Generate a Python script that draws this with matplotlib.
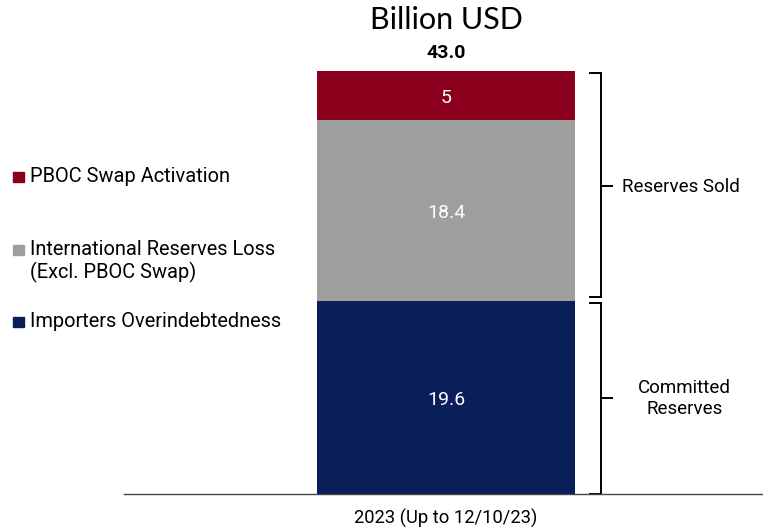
import matplotlib
matplotlib.use("Agg")
import matplotlib.pyplot as plt
from matplotlib.patches import Rectangle

plt.rcParams['font.family'] = ['Roboto', 'DejaVu Sans']

# data
category = ["2023 (Up to 12/10/23)"]
series = ["Importers Overindebtedness", "International Reserves Loss\n(Excl. PBOC Swap)", "PBOC Swap Activation"]
values = [19.6, 18.4, 5]
value_labels = ["19.6", "18.4", "5"]
colors = ["#0a1f5a", "#9e9e9e", "#8a001c"]
total_label = "43.0"
brackets = [("Committed\nReserves", 0, 19.6, 0.926), ("Reserves Sold", 19.6, 43.0, 0.911)]

W, H = 763, 528
fig = plt.figure(figsize=(W / 100, H / 100), dpi=100)
ax = fig.add_axes([124 / W, 34 / H, (762 - 124) / W, 423 / H])

bottom = 0
for v, lab, c in zip(values, value_labels, colors):
    ax.bar(0, v, width=1.0, bottom=bottom, color=c)
    ax.text(0, bottom + v / 2, lab, color="white", ha="center", va="center_baseline", fontsize=14)
    bottom += v

ax.set_xlim(-1.248, 1.225)
ax.set_ylim(0, 43)
for s in ["top", "right", "left"]:
    ax.spines[s].set_visible(False)
ax.spines["bottom"].set_color("#444444")
ax.spines["bottom"].set_linewidth(1.0)
ax.set_yticks([])
ax.set_xticks([0])
ax.set_xticklabels(category, fontsize=13.2)
ax.tick_params(axis="x", length=0, pad=11)

# brackets
xb, xs, xt = 0.601, 0.558, 0.643
for lab, y0, y1, xl in brackets:
    top = 42.8 if y1 == 43.0 else y1 - 0.2
    bot = 0.05 if y0 == 0 else y0 + 0.4
    ax.plot([xs, xb, xb, xs], [top, top, bot, bot], color="black", lw=1.4, clip_on=False,
            solid_joinstyle="miter")
    mid = (y0 + y1) / 2
    ax.plot([xb, xt], [mid, mid], color="black", lw=1.4, clip_on=False)
    ax.text(xl, mid - 0.1, lab, ha="center", va="center", fontsize=13.5, linespacing=1.25)

# title and total
fig.text(446 / W, 1 - 20 / H, "Billion USD", ha="center", va="center", fontsize=22,
         family=["Lato", "DejaVu Sans"])
fig.text(446 / W, 1 - 53 / H, total_label, ha="center", va="center", fontsize=14, fontweight="bold")

# legend on the left (square at first line baseline, text baseline at last line)
legend_pos = [(182, 182, series[2], colors[2]), (255, 278, series[1], colors[1]),
              (327, 327, series[0], colors[0])]
for ysq, ytx, lab, c in legend_pos:
    fig.patches.append(Rectangle((13 / W, 1 - ysq / H), 11 / W, 10 / H,
                                 transform=fig.transFigure, color=c))
    fig.text(30 / W, 1 - ytx / H, lab, ha="left", va="baseline", fontsize=14.4, linespacing=1.15)

fig.savefig("out.png", dpi=100)
